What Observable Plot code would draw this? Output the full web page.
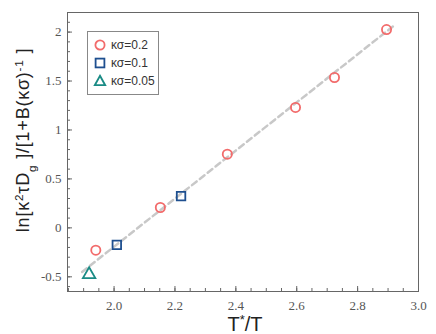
<!DOCTYPE html>
<html><head><meta charset="utf-8">
<script src="https://cdn.jsdelivr.net/npm/d3@7"></script>
<script src="https://cdn.jsdelivr.net/npm/@observablehq/plot@0.6"></script>
<style>
body{margin:0;background:#fff;}
#wrap{position:relative;width:436px;height:334px;}
#legend{position:absolute;left:87px;top:31px;width:72px;height:64px;border:1px solid #888;background:#fff;font-family:"Liberation Sans",sans-serif;font-size:12px;color:#333;box-sizing:border-box;padding-top:4px;}
#legend div{display:flex;align-items:center;height:18px;padding-left:5px;}
#legend svg{margin-right:4px;}
</style>
</head><body>
<div id="wrap"></div>
<script>
const circX = [1.94, 2.152, 2.372, 2.596, 2.724, 2.895];
const circY = [-0.228, 0.208, 0.753, 1.23, 1.536, 2.026];
const sqX = [2.009, 2.22];
const sqY = [-0.173, 0.324];
const triX = [1.918];
const triY = [-0.476];
const fitX = [1.895, 2.925];
const fitY = [-0.45, 2.08];
const xMajor = [2.0, 2.2, 2.4, 2.6, 2.8, 3.0];
const yMajor = [-0.5, 0, 0.5, 1, 1.5, 2];
const xMinor = d3.range(1.85, 3.001, 0.05).map(v => +v.toFixed(2));
const yMinor = d3.range(-0.6, 2.201, 0.1).map(v => +v.toFixed(1));
const seriesNames = ["κσ=0.2", "κσ=0.1", "κσ=0.05"];
const colors = ["#f26b6b", "#1e4f8f", "#1a8b85"];

const W = 436, H = 334, mL = 67, mR = 18, mT = 12, mB = 43;
const innerH = H - mT - mB, innerW = W - mL - mR;
const circ = circX.map((x, i) => ({x, y: circY[i]}));
const sq = sqX.map((x, i) => ({x, y: sqY[i]}));
const tri = triX.map((x, i) => ({x, y: triY[i]}));
const fit = fitX.map((x, i) => ({x, y: fitY[i]}));

const chart = Plot.plot({
  width: W, height: H,
  marginLeft: mL, marginRight: mR, marginTop: mT, marginBottom: mB,
  style: {fontFamily: "Liberation Serif, serif", fontSize: "13px", color: "#555", background: "#fff"},
  x: {domain: [1.847, 3.0]},
  y: {domain: [-0.65, 2.2]},
  marks: [
    Plot.axisX(xMajor, {tickSize: 0, tickPadding: 9, tickFormat: d => d.toFixed(1), label: null, fontSize: 13}),
    Plot.axisY(yMajor, {tickSize: 0, tickPadding: 6, tickFormat: d => String(d), label: null, fontSize: 13}),
    Plot.ruleX(xMinor, {x: d => d, insetTop: innerH - 3, stroke: "#666"}),
    Plot.ruleX(xMajor, {x: d => d, insetTop: innerH - 5, stroke: "#666"}),
    Plot.ruleY(yMinor, {y: d => d, insetRight: innerW - 3, stroke: "#666"}),
    Plot.ruleY(yMajor, {y: d => d, insetRight: innerW - 5, stroke: "#666"}),
    Plot.line(fit, {x: "x", y: "y", stroke: "#c8c8c8", strokeWidth: 2.5, strokeDasharray: "6,4"}),
    Plot.dot(circ, {x: "x", y: "y", r: 4.6, symbol: "circle", stroke: colors[0], strokeWidth: 1.8, fill: "none"}),
    Plot.dot(sq, {x: "x", y: "y", r: 4.8, symbol: "square", stroke: colors[1], strokeWidth: 1.8, fill: "none"}),
    Plot.dot(tri, {x: "x", y: "y", r: 4.6, symbol: "triangle", stroke: colors[2], strokeWidth: 1.8, fill: "none"}),
    Plot.frame({stroke: "#666", strokeWidth: 1})
  ]
});

const ns = "http://www.w3.org/2000/svg";
function mkText(parts, attrs) {
  const t = document.createElementNS(ns, "text");
  for (const k in attrs) t.setAttribute(k, attrs[k]);
  for (const [s, kind] of parts) {
    const ts = document.createElementNS(ns, "tspan");
    ts.textContent = s;
    if (kind === "sup") { ts.setAttribute("baseline-shift", "super"); ts.setAttribute("font-size", "0.65em"); }
    if (kind === "sub") { ts.setAttribute("baseline-shift", "sub"); ts.setAttribute("font-size", "0.65em"); }
    t.appendChild(ts);
  }
  chart.appendChild(t);
  return t;
}
mkText([["T"], ["*", "sup"], ["/T"]], {x: 245, y: 331, "text-anchor": "middle", "font-family": "Liberation Sans, sans-serif", "font-size": 20, fill: "#222"});
mkText([["ln[κ"], ["2", "sup"], ["τD"], ["g", "sub"], [" ]/[1+B(κσ)"], ["-1", "sup"], [" ]"]],
  {transform: "translate(29,140) rotate(-90)", "text-anchor": "middle", "font-family": "Liberation Sans, sans-serif", "font-size": 18, "letter-spacing": "0.8", fill: "#222"});

const wrap = document.getElementById("wrap");
wrap.appendChild(chart);

const leg = document.createElement("div");
leg.id = "legend";
const syms = [
  '<circle cx="7" cy="7" r="4.6" fill="none" stroke="' + colors[0] + '" stroke-width="1.8"/>',
  '<rect x="2.6" y="2.6" width="8.8" height="8.8" fill="none" stroke="' + colors[1] + '" stroke-width="1.8"/>',
  '<path d="M7,1.8 L12.2,11.2 L1.8,11.2 Z" fill="none" stroke="' + colors[2] + '" stroke-width="1.8"/>'
];
seriesNames.forEach((n, i) => {
  const row = document.createElement("div");
  row.innerHTML = '<svg width="14" height="14">' + syms[i] + '</svg><span></span>';
  row.querySelector("span").textContent = n;
  leg.appendChild(row);
});
wrap.appendChild(leg);
</script>
</body></html>
